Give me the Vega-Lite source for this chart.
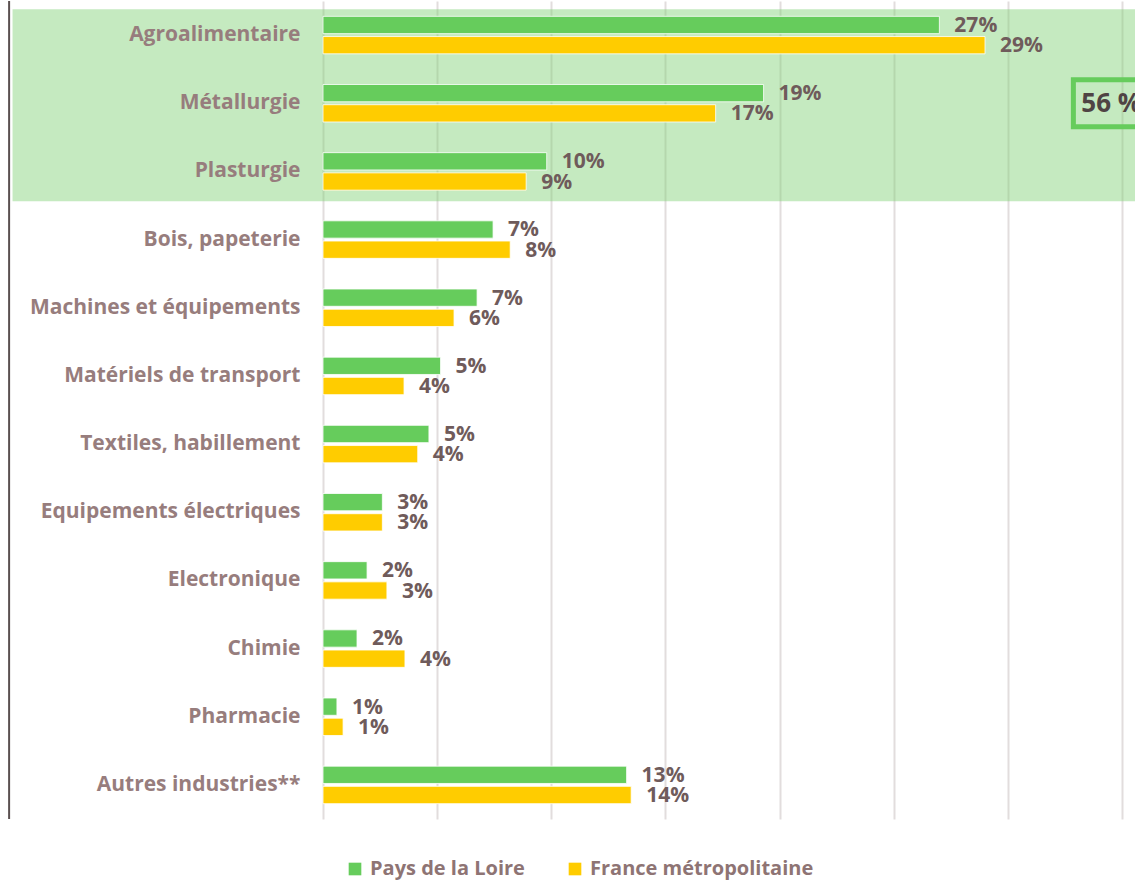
{
  "$schema": "https://vega.github.io/schema/vega-lite/v6.json",
  "width": 812,
  "height": 818,
  "autosize": {"type": "none"},
  "padding": {"left": 323, "top": 1, "right": 0, "bottom": 63},
  "background": "white",
  "config": {"view": {"stroke": null}, "font": "Open Sans"},
  "datasets": {
    "bars": [
      {"cat": "Agroalimentaire", "series": "Pays de la Loire", "value": 27.0, "label": "27%"},
      {"cat": "Agroalimentaire", "series": "France métropolitaine", "value": 29.0, "label": "29%"},
      {"cat": "Métallurgie", "series": "Pays de la Loire", "value": 19.3, "label": "19%"},
      {"cat": "Métallurgie", "series": "France métropolitaine", "value": 17.2, "label": "17%"},
      {"cat": "Plasturgie", "series": "Pays de la Loire", "value": 9.8, "label": "10%"},
      {"cat": "Plasturgie", "series": "France métropolitaine", "value": 8.9, "label": "9%"},
      {"cat": "Bois, papeterie", "series": "Pays de la Loire", "value": 7.45, "label": "7%"},
      {"cat": "Bois, papeterie", "series": "France métropolitaine", "value": 8.2, "label": "8%"},
      {"cat": "Machines et équipements", "series": "Pays de la Loire", "value": 6.75, "label": "7%"},
      {"cat": "Machines et équipements", "series": "France métropolitaine", "value": 5.74, "label": "6%"},
      {"cat": "Matériels de transport", "series": "Pays de la Loire", "value": 5.15, "label": "5%"},
      {"cat": "Matériels de transport", "series": "France métropolitaine", "value": 3.55, "label": "4%"},
      {"cat": "Textiles, habillement", "series": "Pays de la Loire", "value": 4.64, "label": "5%"},
      {"cat": "Textiles, habillement", "series": "France métropolitaine", "value": 4.15, "label": "4%"},
      {"cat": "Equipements électriques", "series": "Pays de la Loire", "value": 2.6, "label": "3%"},
      {"cat": "Equipements électriques", "series": "France métropolitaine", "value": 2.6, "label": "3%"},
      {"cat": "Electronique", "series": "Pays de la Loire", "value": 1.93, "label": "2%"},
      {"cat": "Electronique", "series": "France métropolitaine", "value": 2.8, "label": "3%"},
      {"cat": "Chimie", "series": "Pays de la Loire", "value": 1.49, "label": "2%"},
      {"cat": "Chimie", "series": "France métropolitaine", "value": 3.59, "label": "4%"},
      {"cat": "Pharmacie", "series": "Pays de la Loire", "value": 0.61, "label": "1%"},
      {"cat": "Pharmacie", "series": "France métropolitaine", "value": 0.88, "label": "1%"},
      {"cat": "Autres industries**", "series": "Pays de la Loire", "value": 13.3, "label": "13%"},
      {"cat": "Autres industries**", "series": "France métropolitaine", "value": 13.5, "label": "14%"}
    ],
    "note": [
      {"cat": "Métallurgie", "label": "56 %", "share": 56}
    ]
  },
  "layer": [
    {
      "data": {"name": "note"},
      "mark": {"type": "rect", "height": 192, "yOffset": 2, "fill": "#7fd073", "opacity": 0.45, "clip": false},
      "encoding": {
        "y": {"field": "cat", "type": "nominal"},
        "x": {"datum": -13.6, "type": "quantitative"},
        "x2": {"datum": 36}
      }
    },
    {
      "data": {"name": "note"},
      "mark": {"type": "rule", "color": "#5a5050", "strokeWidth": 2, "clip": false},
      "encoding": {
        "x": {"datum": -13.75, "type": "quantitative"}
      }
    },
    {
      "data": {"name": "bars"},
      "mark": {"type": "bar", "stroke": "#ffffff", "strokeWidth": 0.8},
      "encoding": {
        "y": {
          "field": "cat", "type": "nominal", "sort": null,
          "scale": {
            "domain": ["Agroalimentaire", "Métallurgie", "Plasturgie", "Bois, papeterie", "Machines et équipements", "Matériels de transport", "Textiles, habillement", "Equipements électriques", "Electronique", "Chimie", "Pharmacie", "Autres industries**"],
            "paddingInner": 0.45, "paddingOuter": 0.225
          },
          "axis": {
            "title": null, "domain": false, "ticks": false, "labelPadding": 23,
            "labelFont": "Open Sans", "labelFontSize": 21, "labelFontWeight": "bold",
            "labelColor": "#977d7d", "labelLimit": 400
          }
        },
        "yOffset": {
          "field": "series", "type": "nominal", "sort": ["Pays de la Loire", "France métropolitaine"],
          "scale": {"paddingInner": 0.144, "paddingOuter": 0}
        },
        "x": {
          "field": "value", "type": "quantitative",
          "scale": {"domain": [0, 35.57], "nice": false, "zero": true},
          "axis": {
            "title": null, "labels": false, "ticks": false, "domain": false,
            "values": [0, 5, 10, 15, 20, 25, 30, 35],
            "grid": true, "gridColor": "#e2dddd", "gridWidth": 2
          }
        },
        "color": {
          "field": "series", "type": "nominal",
          "scale": {"domain": ["Pays de la Loire", "France métropolitaine"], "range": ["#66cc5c", "#ffcc00"]},
          "legend": {
            "title": null, "orient": "none", "direction": "horizontal",
            "legendX": 22, "legendY": 858,
            "symbolType": "square", "symbolSize": 160, "symbolStrokeWidth": 0,
            "labelFont": "Open Sans", "labelFontSize": 20, "labelFontWeight": "bold",
            "labelColor": "#8e7474", "labelOffset": 5, "columnPadding": 40, "labelLimit": 400
          }
        }
      }
    },
    {
      "data": {"name": "bars"},
      "mark": {"type": "text", "align": "left", "baseline": "middle", "dx": 15, "dy": 1,
               "font": "Open Sans", "fontSize": 21, "fontWeight": "bold", "color": "#6f5b5b"},
      "encoding": {
        "y": {"field": "cat", "type": "nominal", "sort": null},
        "yOffset": {"field": "series", "type": "nominal", "sort": ["Pays de la Loire", "France métropolitaine"]},
        "x": {"field": "value", "type": "quantitative"},
        "text": {"field": "label"}
      }
    },
    {
      "data": {"name": "note"},
      "mark": {"type": "rect", "height": 47, "fill": null, "fillOpacity": 0, "stroke": "#66cc5c", "strokeWidth": 5, "clip": false},
      "encoding": {
        "y": {"field": "cat", "type": "nominal"},
        "x": {"datum": 32.87, "type": "quantitative"},
        "x2": {"datum": 37}
      }
    },
    {
      "data": {"name": "note"},
      "mark": {"type": "text", "align": "left", "baseline": "middle", "dx": 8, "dy": 1,
               "font": "Open Sans", "fontSize": 26, "fontWeight": "bold", "color": "#4f4444"},
      "encoding": {
        "y": {"field": "cat", "type": "nominal"},
        "x": {"datum": 32.87, "type": "quantitative"},
        "text": {"field": "label"}
      }
    }
  ]
}
